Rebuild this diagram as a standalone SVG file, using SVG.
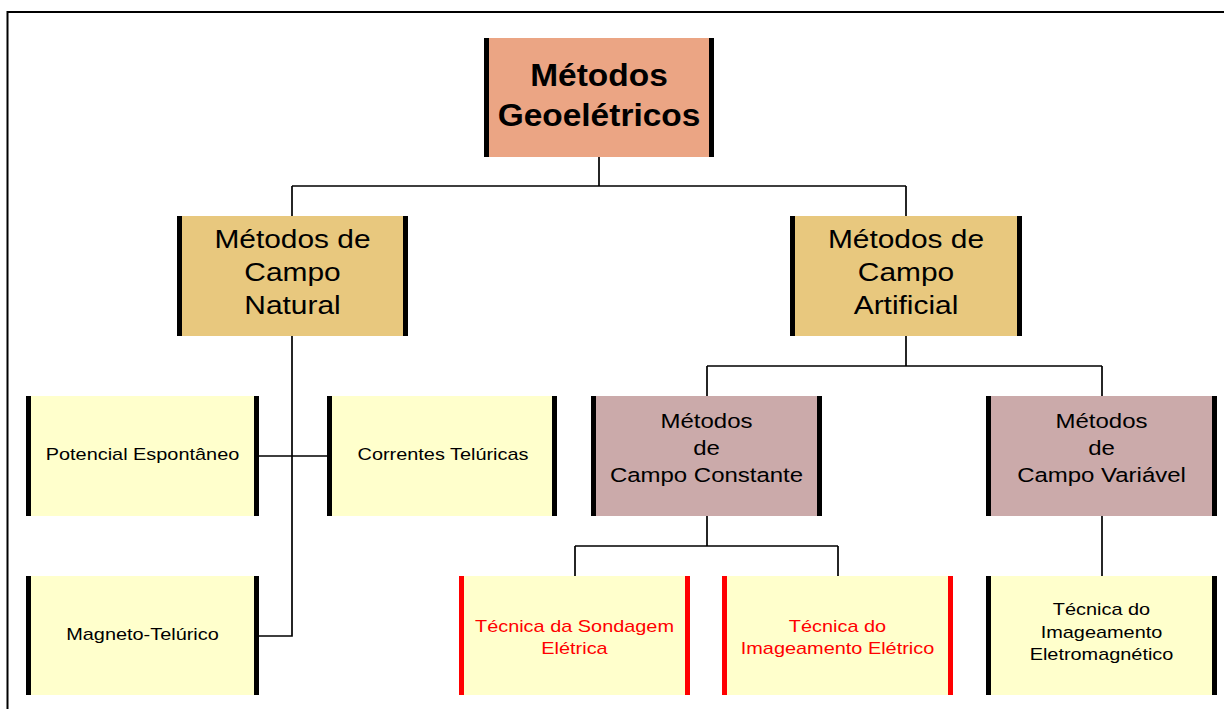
<svg xmlns="http://www.w3.org/2000/svg" width="1224" height="709" viewBox="0 0 1224 709">
<style>
text{font-family:"Liberation Sans",Arial,sans-serif;text-anchor:middle;fill:#000}
.t0{font-size:31px;font-weight:bold}
.t1{font-size:26px}
.t2{font-size:20.5px}
.t3{font-size:17px}
.red{fill:#FF0000}
.conn{fill:none;stroke:#000;stroke-width:1.7}
.salmon{fill:#EBA584}
.gold{fill:#E8C87E}
.mauve{fill:#CBAAAA}
.pale{fill:#FFFFCC}
.bar{fill:#000}
.rbar{fill:#FF0000}
</style>
<rect x="0" y="0" width="1224" height="709" fill="#fff"/>
<path d="M7.5 709 V12 H1224" fill="none" stroke="#000" stroke-width="2"/>
<g id="connectors" class="conn">
<path d="M599 157 V186 M292 186 H906 M292 186 V216 M906 186 V216"/>
<path d="M292 336 V636 H259 M259 456 H327"/>
<path d="M906 336 V366 M707 366 H1102 M707 366 V396 M1102 366 V396"/>
<path d="M707 516 V546 M575 546 H838 M575 546 V576 M838 546 V576"/>
<path d="M1102 516 V576"/>
</g>
<g id="n-geo">
<rect class="salmon" x="484" y="38" width="230" height="119"/>
<rect class="bar" x="484" y="38" width="5" height="119"/>
<rect class="bar" x="709" y="38" width="5" height="119"/>
<text class="t0" transform="translate(599,86) scale(1.08,1)">Métodos</text>
<text class="t0" transform="translate(599,126) scale(1.08,1)">Geoelétricos</text>
</g>
<g id="n-natural">
<rect class="gold" x="177" y="216" width="231" height="120"/>
<rect class="bar" x="177" y="216" width="5" height="120"/>
<rect class="bar" x="403" y="216" width="5" height="120"/>
<text class="t1" transform="translate(292.5,248) scale(1.15,1)">Métodos de</text>
<text class="t1" transform="translate(292.5,281) scale(1.15,1)">Campo</text>
<text class="t1" transform="translate(292.5,314) scale(1.15,1)">Natural</text>
</g>
<g id="n-artificial">
<rect class="gold" x="790" y="216" width="232" height="120"/>
<rect class="bar" x="790" y="216" width="5" height="120"/>
<rect class="bar" x="1017" y="216" width="5" height="120"/>
<text class="t1" transform="translate(906,248) scale(1.15,1)">Métodos de</text>
<text class="t1" transform="translate(906,281) scale(1.15,1)">Campo</text>
<text class="t1" transform="translate(906,314) scale(1.15,1)">Artificial</text>
</g>
<g id="n-potencial">
<rect class="pale" x="26" y="396" width="233" height="120"/>
<rect class="bar" x="26" y="396" width="5" height="120"/>
<rect class="bar" x="254" y="396" width="5" height="120"/>
<text class="t3" transform="translate(142.5,460) scale(1.17,1)">Potencial Espontâneo</text>
</g>
<g id="n-correntes">
<rect class="pale" x="327" y="396" width="230" height="120"/>
<rect class="bar" x="327" y="396" width="5" height="120"/>
<rect class="bar" x="552" y="396" width="5" height="120"/>
<text class="t3" transform="translate(443,460) scale(1.17,1)">Correntes Telúricas</text>
</g>
<g id="n-constante">
<rect class="mauve" x="591" y="396" width="231" height="120"/>
<rect class="bar" x="591" y="396" width="5" height="120"/>
<rect class="bar" x="817" y="396" width="5" height="120"/>
<text class="t2" transform="translate(706.5,428) scale(1.17,1)">Métodos</text>
<text class="t2" transform="translate(706.5,455) scale(1.17,1)">de</text>
<text class="t2" transform="translate(706.5,482) scale(1.17,1)">Campo Constante</text>
</g>
<g id="n-variavel">
<rect class="mauve" x="986" y="396" width="231" height="120"/>
<rect class="bar" x="986" y="396" width="5" height="120"/>
<rect class="bar" x="1212" y="396" width="5" height="120"/>
<text class="t2" transform="translate(1101.5,428) scale(1.17,1)">Métodos</text>
<text class="t2" transform="translate(1101.5,455) scale(1.17,1)">de</text>
<text class="t2" transform="translate(1101.5,482) scale(1.17,1)">Campo Variável</text>
</g>
<g id="n-magneto">
<rect class="pale" x="26" y="576" width="233" height="119"/>
<rect class="bar" x="26" y="576" width="5" height="119"/>
<rect class="bar" x="254" y="576" width="5" height="119"/>
<text class="t3" transform="translate(142.5,640) scale(1.17,1)">Magneto-Telúrico</text>
</g>
<g id="n-sondagem">
<rect class="pale" x="459" y="576" width="231" height="119"/>
<rect class="rbar" x="459" y="576" width="5" height="119"/>
<rect class="rbar" x="685" y="576" width="5" height="119"/>
<text class="t3 red" transform="translate(574.5,632) scale(1.17,1)">Técnica da Sondagem</text>
<text class="t3 red" transform="translate(574.5,654) scale(1.17,1)">Elétrica</text>
</g>
<g id="n-imageamento">
<rect class="pale" x="722" y="576" width="231" height="119"/>
<rect class="rbar" x="722" y="576" width="5" height="119"/>
<rect class="rbar" x="948" y="576" width="5" height="119"/>
<text class="t3 red" transform="translate(837.5,632) scale(1.17,1)">Técnica do</text>
<text class="t3 red" transform="translate(837.5,654) scale(1.17,1)">Imageamento Elétrico</text>
</g>
<g id="n-eletromag">
<rect class="pale" x="986" y="576" width="231" height="119"/>
<rect class="bar" x="986" y="576" width="5" height="119"/>
<rect class="bar" x="1212" y="576" width="5" height="119"/>
<text class="t3" transform="translate(1101.5,615) scale(1.17,1)">Técnica do</text>
<text class="t3" transform="translate(1101.5,638) scale(1.17,1)">Imageamento</text>
<text class="t3" transform="translate(1101.5,660) scale(1.17,1)">Eletromagnético</text>
</g>
</svg>
